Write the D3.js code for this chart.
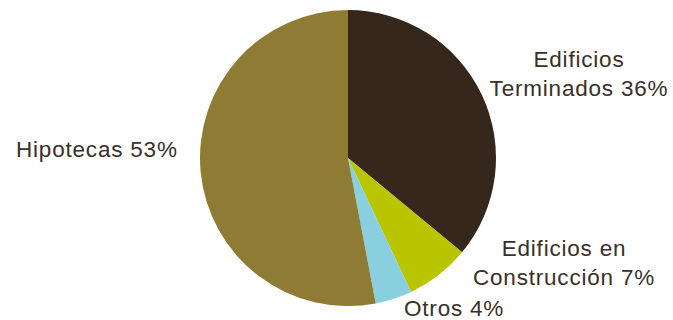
<!DOCTYPE html>
<html>
<head>
<meta charset="utf-8">
<script src="https://cdn.jsdelivr.net/npm/d3@7"></script>
<style>
  html, body { margin: 0; padding: 0; background: #ffffff; }
  svg { display: block; }
  text { font-family: "Liberation Sans", Arial, sans-serif; fill: #3b2f26; }
</style>
</head>
<body>
<svg id="chart" width="673" height="320"></svg>
<script>
// Loan portfolio composition, clockwise from 12 o'clock
const categories = ["Edificios Terminados", "Edificios en Construcción", "Otros", "Hipotecas"];
const shares = [36, 7, 4, 53];
const colors = ["#35271b", "#b8c500", "#8acfe0", "#8f7c34"];
// Label lines per slice
const labelLines = [
  ["Edificios", "Terminados 36%"],
  ["Edificios en", "Construcción 7%"],
  ["Otros 4%"],
  ["Hipotecas 53%"]
];

const svg = d3.select("#chart");
const cx = 348, cy = 158, radius = 148;

const pie = d3.pie().sort(null).value(d => d);
const arc = d3.arc().innerRadius(0).outerRadius(radius);
const arcs = pie(shares);

const g = svg.append("g").attr("transform", `translate(${cx},${cy})`);

g.selectAll("path.slice")
  .data(arcs)
  .join("path")
  .attr("class", "slice")
  .attr("d", arc)
  .attr("fill", (d, i) => colors[i]);

// Label anchors, placed outside each slice
const labelPos = [
  { x: 579, y: 67, anchor: "middle" },
  { x: 564, y: 256, anchor: "middle" },
  { x: 404, y: 316, anchor: "start" },
  { x: 16, y: 157, anchor: "start" }
];
const lineGap = 29;

labelLines.forEach((lines, i) => {
  const t = svg.append("text")
    .attr("x", labelPos[i].x)
    .attr("y", labelPos[i].y)
    .attr("text-anchor", labelPos[i].anchor)
    .style("font-size", "22.5px")
    .style("letter-spacing", "0.8px");
  lines.forEach((line, j) => {
    t.append("tspan")
      .attr("x", labelPos[i].x)
      .attr("dy", j === 0 ? 0 : lineGap)
      .text(line);
  });
});
</script>
</body>
</html>
